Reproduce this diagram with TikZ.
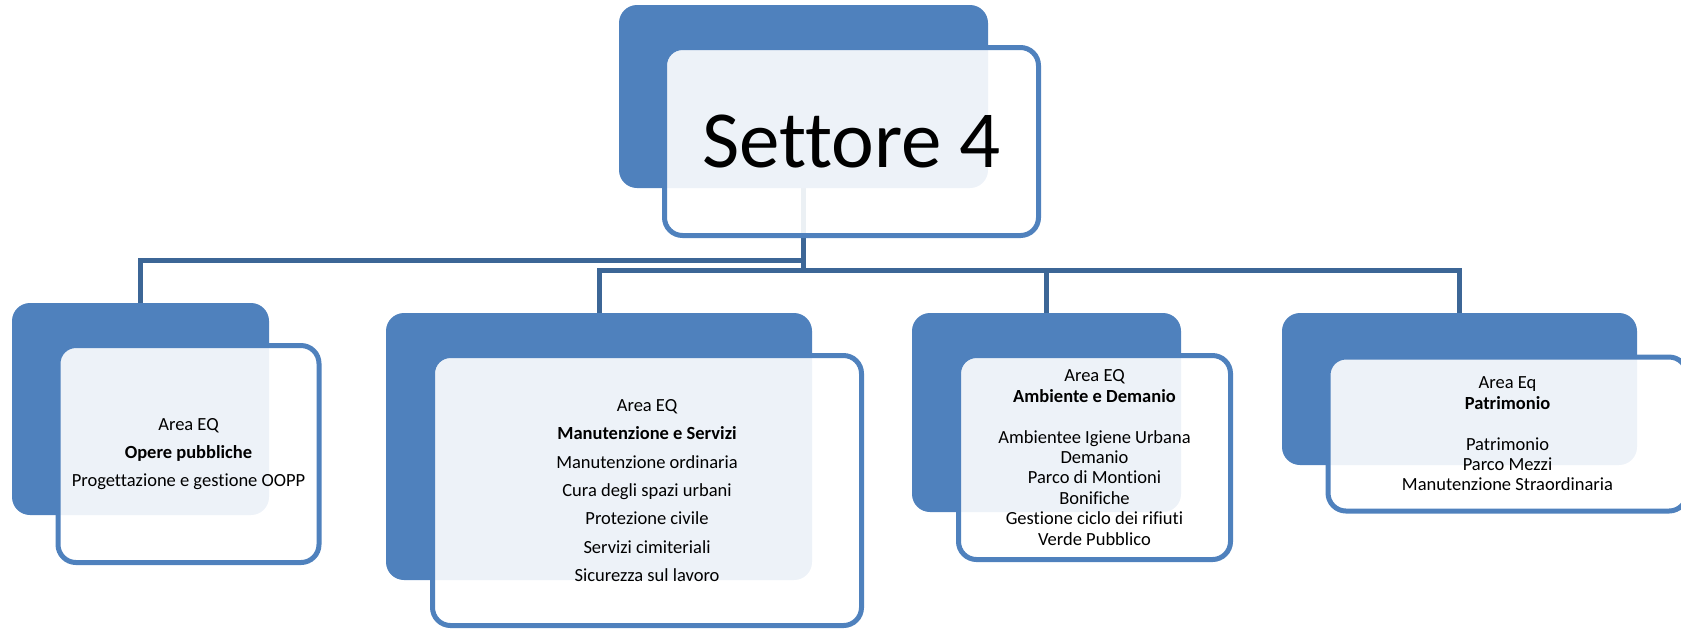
\documentclass[tikz,border=0pt]{standalone}
\usepackage{fontspec}
\setmainfont{Carlito}[Ligatures=NoCommon]
\usetikzlibrary{calc, backgrounds}
\definecolor{office}{HTML}{4F81BD}
\definecolor{officedark}{HTML}{3C6696}
\tikzset{
  back/.style  = {rectangle, rounded corners=9pt, fill=office, draw=none},
  front/.style = {rectangle, rounded corners=9pt, draw=office, line width=2.5pt,
                  fill=white, fill opacity=0.9, text opacity=1, align=center,
                  text=black, font=\fontsize{9.25}{14.2}\selectfont},
  tight/.style = {font=\fontsize{9.25}{10.2}\selectfont},
  link/.style  = {draw=officedark, line width=2.5pt},
}

\begin{document}
\begin{tikzpicture}[x=0.5pt, y=-0.5pt]
  \useasboundingbox (0,0) rectangle (1681,629);

  % Root: Settore 4
  \node[back, minimum width=184.5pt, minimum height=91.5pt] (settoreback) at (803.5,96.5) {};
  \node[front, minimum width=187pt, minimum height=94pt,
        font=\fontsize{40.5}{48}\selectfont] (settore)
       at ($(settoreback)+(48,45)$) {Settore 4};

  % Areas
  \node[back, minimum width=128.5pt, minimum height=106pt] (opereback) at (140.5,409) {};
  \node[front, minimum width=130.5pt, minimum height=108.5pt] (opere)
       at ($(opereback)+(48,45)$)
       {Area EQ\\ \textbf{Opere pubbliche}\\ Progettazione e gestione OOPP};

  \node[back, minimum width=213pt, minimum height=133.5pt] (manutback) at (599,446.5) {};
  \node[front, minimum width=214.5pt, minimum height=135pt] (manut)
       at ($(manutback)+(48,44)$)
       {Area EQ\\ \textbf{Manutenzione e Servizi}\\ Manutenzione ordinaria\\
        Cura degli spazi urbani\\ Protezione civile\\ Servizi cimiteriali\\
        Sicurezza sul lavoro};

  \node[back, minimum width=134.5pt, minimum height=99.5pt] (ambback) at (1046.5,412.5) {};
  \node[front, tight, minimum width=136pt, minimum height=102pt] (amb)
       at ($(ambback)+(48,45)$)
       {Area EQ\\ \textbf{Ambiente e Demanio}\\[10.2pt] Ambientee Igiene Urbana\\
        Demanio\\ Parco di Montioni\\ Bonifiche\\ Gestione ciclo dei rifiuti\\
        Verde Pubblico};

  \node[back, minimum width=177.5pt, minimum height=76pt] (patrback) at (1459.5,389) {};
  \node[front, tight, minimum width=179.5pt, minimum height=77pt] (patr)
       at ($(patrback)+(48,45)$)
       {Area Eq\\ \textbf{Patrimonio}\\[10.2pt] Patrimonio\\ Parco Mezzi\\
        Manutenzione Straordinaria};

  % Connectors
  \begin{scope}[on background layer]
    \coordinate (busA) at ($(settoreback.south)+(0,72)$);
    \coordinate (busB) at ($(settoreback.south)+(0,82)$);
    \draw[link] (settoreback.south) -- (busB);
    \draw[link] (busA) -| (opereback.north);
    \draw[link] (busB) -| (manutback.north);
    \draw[link] (busB) -| (ambback.north);
    \draw[link] (busB) -| (patrback.north);
  \end{scope}

\end{tikzpicture}
\end{document}
